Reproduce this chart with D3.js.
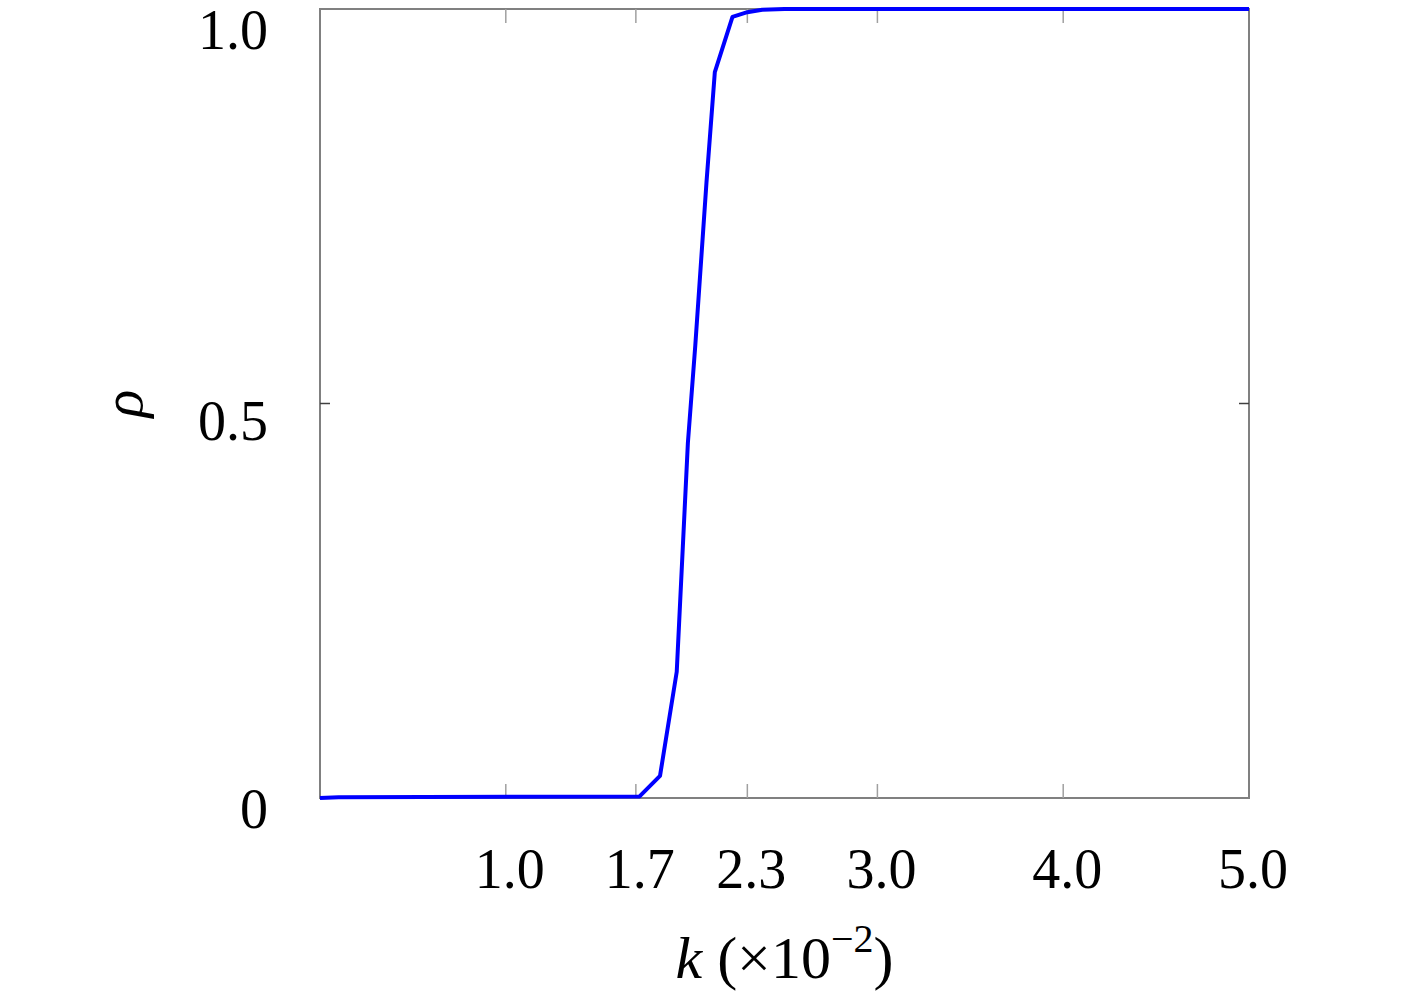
<!DOCTYPE html>
<html>
<head>
<meta charset="utf-8">
<script src="https://cdn.jsdelivr.net/npm/d3@7"></script>
<style>
  body { margin: 0; background: #fff; }
  text { font-family: "Liberation Serif", "DejaVu Serif", serif; fill: #000; }
</style>
</head>
<body>
<script>
// data
const kValues   = [0, 0.1, 1.72, 1.83, 1.92, 1.98, 2.02, 2.08, 2.125, 2.22, 2.30, 2.38, 2.5, 5.0];
const rhoValues = [0, 0.001, 0.002, 0.028, 0.160, 0.45, 0.574, 0.78, 0.920, 0.990, 0.996, 0.999, 1.0, 1.0];
const xTicks = [1.0, 1.7, 2.3, 3.0, 4.0, 5.0];
const yTicks = [0, 0.5, 1.0];

const data = kValues.map((k, i) => ({ k: k, rho: rhoValues[i] }));

const width = 1417, height = 1004;
const margin = { left: 320, right: 168, top: 9, bottom: 206 };
const w = width - margin.left - margin.right;
const h = height - margin.top - margin.bottom;

const svg = d3.select('body').append('svg')
    .attr('width', width)
    .attr('height', height);

const g = svg.append('g')
    .attr('transform', `translate(${margin.left}, ${margin.top})`);

var x = d3.scaleLinear().domain([0, 5]).range([0, w]);
var y = d3.scaleLinear().domain([0, 1]).range([h, 0]);

// frame
g.append('rect')
    .attr('x', 0).attr('y', 0)
    .attr('width', w).attr('height', h)
    .attr('fill', 'none')
    .attr('stroke', '#808080')
    .attr('stroke-width', 2);

// x ticks (bottom and top, pointing inward)
g.selectAll('.xtick-b').data(xTicks.filter(t => t < 5)).enter().append('line')
    .attr('x1', d => x(d)).attr('x2', d => x(d))
    .attr('y1', h).attr('y2', h - 14)
    .attr('stroke', '#a0a0a0').attr('stroke-width', 1.5);
g.selectAll('.xtick-t').data(xTicks.filter(t => t < 5)).enter().append('line')
    .attr('x1', d => x(d)).attr('x2', d => x(d))
    .attr('y1', 0).attr('y2', 14)
    .attr('stroke', '#a0a0a0').attr('stroke-width', 1.5);

// y ticks (left and right)
g.selectAll('.ytick-l').data([0.5]).enter().append('line')
    .attr('x1', 0).attr('x2', 10)
    .attr('y1', d => y(d)).attr('y2', d => y(d))
    .attr('stroke', '#404040').attr('stroke-width', 1.5);
g.selectAll('.ytick-r').data([0.5]).enter().append('line')
    .attr('x1', w).attr('x2', w - 10)
    .attr('y1', d => y(d)).attr('y2', d => y(d))
    .attr('stroke', '#404040').attr('stroke-width', 1.5);

// tick labels
g.selectAll('.xlabel').data(xTicks).enter().append('text')
    .attr('x', d => x(d) + 4)
    .attr('y', h + 90)
    .attr('text-anchor', 'middle')
    .style('font-size', '56px')
    .text(d => d.toFixed(1));

g.selectAll('.ylabel').data(yTicks).enter().append('text')
    .attr('x', -52)
    .attr('y', d => d === 1 ? y(d) + 40 : y(d) + (d === 0 ? 30 : 36))
    .attr('text-anchor', 'end')
    .style('font-size', '56px')
    .text(d => d === 0 ? '0' : d.toFixed(1));

// the curve
const line = d3.line()
    .x(d => x(d.k))
    .y(d => y(d.rho));

g.append('path')
    .datum(data)
    .attr('d', line)
    .attr('fill', 'none')
    .attr('stroke', '#0000ff')
    .attr('stroke-width', 4)
    .attr('stroke-linejoin', 'round');

// axis titles
const xt = g.append('text')
    .attr('x', w / 2)
    .attr('y', h + 180)
    .attr('text-anchor', 'middle')
    .style('font-size', '60px');
xt.append('tspan').style('font-style', 'italic').text('k');
xt.append('tspan').text(' (×10');
xt.append('tspan').attr('dy', -26).style('font-size', '40px').text('−2');
xt.append('tspan').attr('dy', 26).text(')');

g.append('text')
    .attr('transform', `translate(${-178}, ${y(0.5)}) rotate(-90)`)
    .attr('text-anchor', 'middle')
    .style('font-size', '58px')
    .style('font-style', 'italic')
    .text('ρ');
</script>
</body>
</html>
